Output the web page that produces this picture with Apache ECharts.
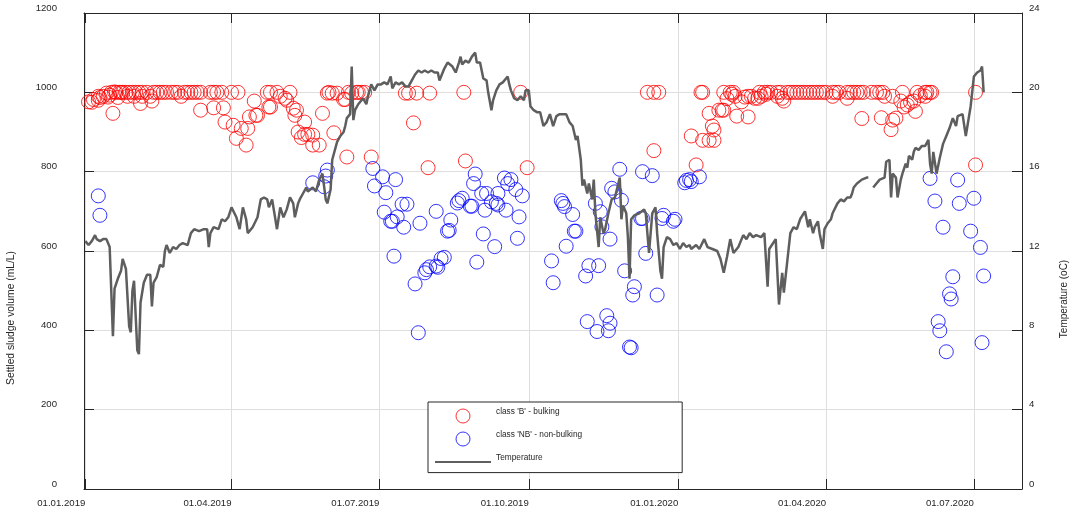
<!DOCTYPE html>
<html>
<head>
<meta charset="utf-8">
<title>Settled sludge volume and temperature</title>
<script src="https://cdn.jsdelivr.net/npm/echarts@6/dist/echarts.min.js"></script>
<style>
  html, body { margin: 0; padding: 0; background: #fff; }
  #chart { width: 1069px; height: 512px; }
</style>
</head>
<body>
<div id="chart"></div>
<script>
// all days are counted from 01.01.2019
var tickDays = [0, 90, 181, 273, 365, 456, 547];
var tickLabels = ['01.01.2019', '01.04.2019', '01.07.2019', '01.10.2019', '01.01.2020', '01.04.2020', '01.07.2020'];

// class 'B' - bulking
var bulkDays = [
  2, 4, 5, 8, 8, 9, 11, 13, 14, 15,
  16, 17, 18, 19, 20, 21, 22, 23, 25, 26,
  27, 29, 30, 31, 33, 34, 35, 35, 38, 40,
  41, 42, 44, 46, 48, 50, 53, 55, 57, 59,
  61, 63, 65, 67, 69, 71, 71, 77, 79, 79,
  81, 84, 85, 86, 90, 91, 93, 94, 96, 99,
  100, 101, 104, 105, 106, 112, 113, 114, 114, 118,
  120, 123, 124, 126, 128, 129, 130, 131, 133, 135,
  135, 137, 140, 140, 144, 146, 149, 150, 152, 153,
  155, 159, 160, 161, 162, 164, 167, 168, 170, 172,
  176, 197, 199, 202, 204, 211, 212, 233, 234, 268,
  272, 346, 350, 353, 350, 373, 376, 379, 380, 380,
  384, 387, 384, 386, 387, 390, 392, 393, 393, 395,
  397, 398, 399, 400, 401, 404, 406, 408, 408, 410,
  412, 414, 415, 416, 418, 419, 420, 422, 426, 426,
  428, 429, 430, 432, 434, 436, 438, 440, 442, 444,
  446, 448, 450, 452, 454, 456, 460, 460, 462, 464,
  469, 469, 471, 473, 475, 477, 478, 479, 484, 487,
  489, 490, 491, 492, 496, 497, 497, 499, 502, 503,
  504, 506, 508, 510, 511, 512, 514, 517, 517, 518,
  520, 521, 548, 548
];
var bulkSSV = [
  976, 975, 982, 980, 990, 987, 990, 998, 988, 993,
  1000, 947, 1001, 1000, 987, 1000, 1000, 1000, 1000, 990,
  1000, 1000, 990, 1000, 1000, 972, 1000, 990, 1000, 990,
  978, 1000, 1000, 1000, 1000, 1000, 1000, 1000, 1000, 990,
  1000, 1000, 1000, 1000, 1000, 1000, 955, 1000, 1000, 961,
  1000, 1000, 961, 925, 1000, 917, 884, 1000, 909, 867,
  909, 938, 978, 942, 942, 1000, 963, 1000, 963, 1000,
  990, 985, 980, 1000, 960, 942, 955, 900, 886, 925,
  894, 894, 892, 867, 867, 947, 998, 1000, 998, 898,
  998, 982, 982, 837, 1000, 998, 1000, 1000, 1000, 1000,
  837, 998, 998, 923, 998, 810, 998, 1000, 827, 1000,
  810, 1000, 1000, 1000, 853, 890, 817, 1000, 1000, 879,
  879, 879, 947, 915, 905, 955, 955, 955, 1000, 984,
  1000, 995, 1000, 990, 940, 976, 988, 938, 990, 990,
  985, 985, 1000, 990, 1000, 995, 1000, 1000, 1000, 990,
  1000, 985, 978, 1000, 1000, 1000, 1000, 1000, 1000, 1000,
  1000, 1000, 1000, 1000, 1000, 1000, 1000, 990, 1000, 1000,
  1000, 985, 1000, 1000, 1000, 1000, 934, 1000, 1000, 1000,
  1000, 936, 1000, 990, 906, 930, 990, 935, 978, 1000,
  963, 968, 975, 978, 952, 1000, 992, 1000, 990, 1000,
  1000, 1000, 1000, 817
];

// class 'NB' - non-bulking
var nbDays = [
  8, 9, 140, 147, 148, 149, 177, 178, 183, 184,
  185, 188, 189, 190, 191, 192, 195, 196, 198, 203,
  205, 206, 209, 210, 212, 216, 216, 217, 219, 221,
  223, 224, 225, 229, 230, 232, 237, 238, 239, 240,
  241, 244, 245, 246, 247, 250, 252, 253, 254, 254,
  258, 259, 260, 262, 265, 266, 267, 269, 287, 288,
  293, 294, 295, 296, 300, 301, 302, 308, 309, 310,
  314, 315, 316, 317, 318, 321, 322, 323, 323, 324,
  326, 329, 330, 332, 335, 336, 337, 338, 342, 343,
  343, 345, 349, 352, 355, 356, 362, 363, 369, 370,
  372, 373, 378, 520, 523, 525, 526, 528, 530, 532,
  533, 534, 537, 538, 545, 547, 551, 552, 553
];
var nbSSV = [
  739, 690, 772, 762, 789, 804, 808, 764, 787, 698,
  747, 675, 675, 587, 780, 686, 718, 660, 718, 517,
  394, 670, 545, 553, 560, 562, 700, 559, 581, 584,
  650, 652, 678, 721, 727, 733, 713, 713, 770, 794,
  572, 745, 643, 703, 745, 724, 611, 720, 716, 745,
  784, 703, 770, 780, 755, 632, 686, 739, 575, 520,
  727, 720, 712, 612, 692, 650, 650, 537, 422, 563,
  720, 397, 563, 699, 661, 437, 399, 418, 630, 758,
  749, 806, 728, 550, 358, 356, 489, 510, 682, 682,
  800, 594, 790, 489, 682, 690, 675, 680, 772, 778,
  780, 775, 787, 783, 726, 422, 399, 660, 346, 492,
  479, 535, 779, 720, 650, 733, 609, 369, 537
];

// Temperature (oC), null = no measurement
var tempDays = [
  0, 2, 4, 6, 7, 9, 11, 13, 15, 17,
  18, 20, 22, 23, 25, 27, 28, 29, 30, 32,
  33, 34, 36, 38, 40, 41, 42, 44, 46, 48,
  49, 50, 52, 54, 56, 58, 60, 63, 65, 67,
  70, 73, 75, 76, 77, 79, 82, 84, 86, 88,
  90, 91, 93, 95, 97, 99, 100, 103, 106, 108,
  110, 112, 113, 115, 117, 118, 120, 122, 124, 126,
  128, 129, 131, 132, 134, 136, 137, 140, 142, 144,
  146, 148, 149, 151, 152, 155, 157, 159, 160, 161,
  163, 164, 165, 166, 168, 169, 171, 173, 174, 176,
  178, 180, 182, 184, 186, 188, 189, 191, 193, 195,
  197, 199, 201, 203, 205, 207, 209, 211, 213, 215,
  217, 218, 221, 223, 224, 226, 228, 230, 231, 232,
  234, 236, 238, 240, 241, 243, 245, 247, 248, 250,
  251, 253, 255, 257, 260, 261, 262, 264, 266, 268,
  270, 271, 273, 274, 276, 278, 280, 282, 284, 286,
  288, 290, 292, 294, 296, 298, 300, 302, 303, 305,
  306, 307, 309, 310, 312, 313, 314, 316, 317, 319,
  320, 322, 324, 326, 329, 330, 331, 333, 334, 335,
  336, 338, 341, 344, 345, 347, 349, 351, 352, 354,
  355, 356, 358, 360, 362, 364, 366, 368, 370, 372,
  373, 374, 376, 378, 381, 383, 386, 389, 391, 393,
  395, 397, 399, 402, 405, 407, 409, 411, 413, 416,
  418, 419, 420, 421, 425, 427, 429, 430, 432, 434,
  436, 438, 440, 443, 445, 446, 448, 449, 451, 452,
  454, 455, 457, 459, 460, 463, 465, 467, 469, 471,
  472, 473, 475, 478, 481, 482, 483, 485, 487, 489,
  490, 492, 493, 495, 496, 497, 499, 500, 502, 503,
  505, 506, 507, 509, 510, 511, 513, 515, 517, 519,
  520, 521, 522, 523, 524, 526, 528, 530, 532, 534,
  536, 537, 540, 542, 544, 545, 547, 549, 551, 552,
  553
];
var tempC = [
  12.5, 12.3, 12.5, 12.8, 12.6, 12.5, 12.6, 12.6, 12.2, 7.7,
  10.1, 10.6, 11.0, 11.6, 11.1, 8.2, 7.9, 10.0, 10.5, 7.0,
  6.8, 9.4, 10.4, 10.8, 10.8, 9.2, 10.4, 10.7, 11.3, 11.2,
  12.0, 12.3, 11.9, 12.2, 12.1, 12.3, 12.4, 12.3, 12.9, 13.1,
  13.0, 13.1, 13.1, 12.2, 12.9, 13.2, 13.1, 13.6, 13.5, 13.7,
  14.2, 14.3, 13.7, 13.1, 14.2, 13.6, 12.9, 13.2, 13.7, 14.6,
  14.7, 14.6, 14.2, 14.6, 13.6, 13.1, 14.2, 13.7, 14.1, 14.7,
  14.4, 13.7, 14.4, 14.6, 14.9, 15.2, 15.0, 15.2, 15.0, 15.6,
  15.9, 14.6, 14.4, 15.1, 16.6, 17.5, 17.8, 18.0, 18.3, 18.7,
  18.9, 21.3, 18.6, 19.1, 19.4, 19.3, 19.7, 19.4, 19.8, 20.4,
  20.1, 20.4, 20.4, 20.5, 20.4, 20.8, 20.2, 20.5, 20.4, 20.5,
  20.3, 20.3, 20.6, 20.9, 21.1, 21.0, 21.1, 21.0, 21.1, 21.0,
  21.0, 20.6, 21.2, 21.5, 21.6, 21.3, 21.0, 21.5, 21.8, 21.4,
  21.6, 21.5, 21.8, 22.0, 21.5, 21.5, 20.7, 20.6, 20.0, 19.1,
  19.6, 20.1, 20.4, 20.5, 20.8, 20.4, 20.1, 19.7, 19.6, 19.8,
  19.6, 20.1, 20.1, 19.3, 19.1, 19.0, 19.0, 18.3, 18.5, 18.9,
  18.3, 18.8, 18.9, 18.9, 18.9, 18.5, 18.3, 17.6, 17.8, 16.6,
  15.3, 15.6, 14.9, 15.4, 14.6, 15.6, 13.9, 12.2, 13.7, 12.9,
  13.1, 13.9, 14.6, 14.7, 15.7, 13.6, 14.3, 13.9, 12.7, 10.6,
  13.6, 13.8, 13.9, 14.1, 13.9, 11.9, 13.9, 14.2, 12.9, 11.0,
  10.6, 12.2, 12.7, 12.6, 12.3, 12.4, 12.1, 12.4, 12.2, 12.3,
  12.1, 12.1, 12.3, 12.1, 12.6, 12.2, 12.1, 12.0, 11.6, 10.9,
  11.7, 12.6, 11.9, 12.2, 12.8, 12.6, 12.9, 12.7, 12.8, 12.7,
  12.9, 13.0, 10.2, 12.1, 12.6, 9.3, 10.9, 9.9, 11.4, 12.9,
  13.2, 13.1, 13.6, 14.0, 13.2, 13.6, 12.9, 13.2, 13.5, 12.9,
  12.1, 13.1, 13.4, 13.6, 13.9, 14.4, 14.6, 14.5, 14.7, 14.7,
  14.9, 15.2, 15.4, 15.6, 15.7, 15.7, null, 15.2, 15.4, 15.6,
  15.5, 15.7, 16.5, 16.6, 14.7, 15.9, 15.7, 14.7, 15.6, 15.9,
  16.4, 16.2, 16.8, 16.6, 17.0, 17.2, 17.1, 17.3, 17.3, 17.6,
  16.4, 15.9, 17.0, 16.9, 15.9, 16.7, 17.4, 17.8, 18.2, 18.7,
  18.3, 18.8, 18.9, 17.8, 18.8, 19.3, 20.8, 21.0, 21.1, 21.3,
  20.0
];

function pairs(xs, ys) {
  return xs.map(function (d, i) {
    return [d, ys[i] == null ? '-' : ys[i]];
  });
}

var font = '"Liberation Sans", Arial, Helvetica, sans-serif';
var ink = '#262626';
var gridCol = '#dedede';

var myChart = echarts.init(document.getElementById('chart'), null, {renderer: 'canvas'});

var option = {
  animation: false,
  backgroundColor: '#fff',
  textStyle: {fontFamily: font},
  grid: {left: 84, right: 47, top: 13, bottom: 23, outerBoundsMode: 'none'},
  xAxis: [
    {
      type: 'value',
      min: -0.8,
      max: 576.6,
      position: 'bottom',
      axisLine: {show: true, onZero: false, lineStyle: {color: ink, width: 1}},
      axisTick: {show: true, inside: true, length: 10, customValues: tickDays, lineStyle: {color: ink}},
      axisLabel: {
        customValues: tickDays,
        formatter: function (v) { return tickLabels[tickDays.indexOf(v)]; },
        align: 'right',
        margin: 9,
        fontSize: 9.6,
        color: ink,
        fontFamily: font
      },
      splitLine: {show: true, lineStyle: {color: gridCol, width: 1}}
    },
    {
      type: 'value',
      min: -0.8,
      max: 576.6,
      position: 'top',
      axisLine: {show: true, onZero: false, lineStyle: {color: ink, width: 1}},
      axisTick: {show: true, inside: true, length: 10, customValues: tickDays, lineStyle: {color: ink}},
      axisLabel: {show: false},
      splitLine: {show: false}
    }
  ],
  yAxis: [
    {
      type: 'value',
      min: 0,
      max: 1200,
      interval: 200,
      position: 'left',
      axisLine: {show: true, onZero: false, lineStyle: {color: ink, width: 1}},
      axisTick: {show: true, inside: true, length: 10, lineStyle: {color: ink}},
      axisLabel: {
        formatter: function (v) { return String(v); },
        margin: 27, verticalAlign: 'bottom', fontSize: 9.6, color: ink, fontFamily: font
      },
      splitLine: {show: true, lineStyle: {color: gridCol, width: 1}}
    },
    {
      type: 'value',
      min: 0,
      max: 24,
      interval: 4,
      position: 'right',
      axisLine: {show: true, onZero: false, lineStyle: {color: ink, width: 1}},
      axisTick: {show: true, inside: true, length: 10, lineStyle: {color: ink}},
      axisLabel: {
        formatter: function (v) { return String(v); },
        margin: 7, verticalAlign: 'bottom', fontSize: 9.6, color: ink, fontFamily: font
      },
      splitLine: {show: false}
    }
  ],
  legend: {
    orient: 'vertical',
    left: 428,
    top: 402,
    padding: [6, 100, 5, 6],
    itemWidth: 56,
    itemHeight: 14,
    itemGap: 7.5,
    borderColor: ink,
    borderWidth: 1,
    backgroundColor: '#fff',
    selectedMode: false,
    itemStyle: {borderWidth: 1},
    formatter: '{t|{name}}',
    textStyle: {
      fontSize: 8.3, color: ink, fontFamily: font,
      rich: {t: {fontSize: 8.3, color: ink, fontFamily: font, padding: [0, 0, 8, 0]}}
    },
    data: [
      "class 'B' - bulking",
      "class 'NB' - non-bulking",
      {name: 'Temperature', itemStyle: {opacity: 0}}
    ]
  },
  graphic: [
    {
      type: 'text',
      x: 11,
      y: 318,
      rotation: Math.PI / 2,
      style: {text: 'Settled sludge volume (mL/L)', fill: ink, font: '10.3px ' + font, align: 'center', verticalAlign: 'middle'}
    },
    {
      type: 'text',
      x: 1064,
      y: 299,
      rotation: Math.PI / 2,
      style: {text: 'Temperature (oC)', fill: ink, font: '10px ' + font, align: 'center', verticalAlign: 'middle'}
    }
  ],
  series: [
    {
      name: "class 'B' - bulking",
      type: 'scatter',
      symbol: 'circle',
      symbolSize: 14,
      itemStyle: {color: 'rgba(0,0,0,0)', borderColor: '#ff0000', borderWidth: 1},
      emphasis: {disabled: true},
      data: pairs(bulkDays, bulkSSV)
    },
    {
      name: "class 'NB' - non-bulking",
      type: 'scatter',
      symbol: 'circle',
      symbolSize: 14,
      itemStyle: {color: 'rgba(0,0,0,0)', borderColor: '#0000ff', borderWidth: 1},
      emphasis: {disabled: true},
      data: pairs(nbDays, nbSSV)
    },
    {
      name: 'Temperature',
      type: 'line',
      yAxisIndex: 1,
      symbol: 'none',
      showSymbol: false,
      connectNulls: false,
      lineStyle: {color: '#5e5e5e', width: 2.5},
      itemStyle: {color: '#5e5e5e'},
      emphasis: {disabled: true},
      data: pairs(tempDays, tempC)
    }
  ]
};

myChart.setOption(option);
</script>
</body>
</html>
